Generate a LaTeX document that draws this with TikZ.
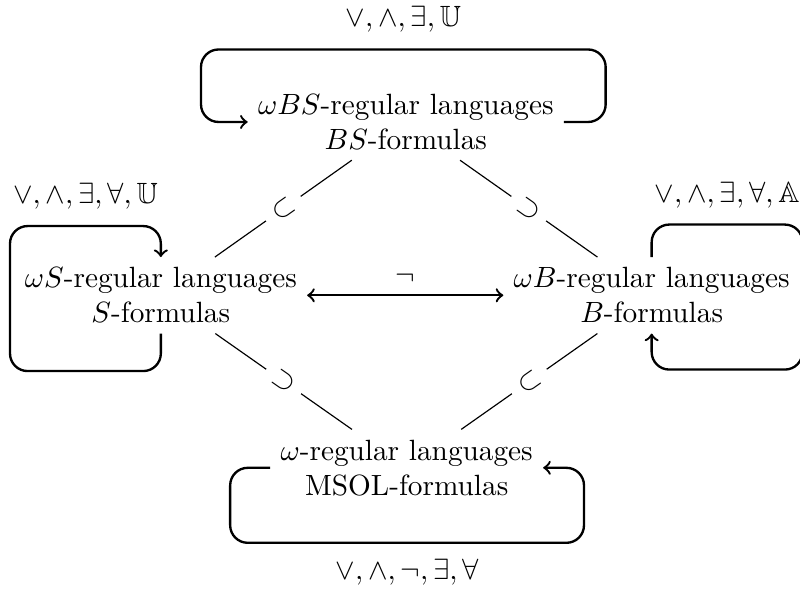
\documentclass[tikz,border=0pt]{standalone}
\usepackage{amssymb}
\begin{document}
\begin{tikzpicture}[
  lang/.style={align=center},
  closure/.style={thick,->,rounded corners=6pt},
  incl/.style={sloped,fill=white}]
\useasboundingbox (0,0) rectangle (9.6,7.104);
\node[lang] (bs) at (4.87,5.64) {$\omega BS$-regular languages\\$BS$-formulas};
\node[lang] (s) at (1.93,3.56) {$\omega S$-regular languages\\$S$-formulas};
\node[lang] (b) at (7.82,3.56) {$\omega B$-regular languages\\$B$-formulas};
\node[lang] (reg) at (4.88,1.49) {$\omega$-regular languages\\MSOL-formulas};

% inclusions
\draw (s) -- node[incl] {$\subset$} (bs);
\draw (bs) -- node[incl] {$\supset$} (b);
\draw (s) -- node[incl] {$\supset$} (reg);
\draw (reg) -- node[incl] {$\subset$} (b);

\draw[thick,<->] (s) -- node[above] {$\neg$} (b);

% closure properties
\draw[closure] (bs.east) -- ++(0.5,0)
  |- node[pos=.75,above=2pt] {$\vee,\wedge,\exists,\mathbb{U}$} ([xshift=-0.56cm,yshift=0.87cm]bs.west)
  -- ([xshift=-0.56cm]bs.west) -- (bs.west);
\draw[closure] (s.south) -- ++(0,-0.45) -- ++(-1.81,0) -- ++(0,1.74)
  -- ++(1.81,0) node[midway,above=2pt] {$\vee,\wedge,\exists,\forall,\mathbb{U}$} -- (s.north);
\draw[closure] (b.north) -- ++(0,0.39)
  -- ++(1.81,0) node[midway,above=2pt] {$\vee,\wedge,\exists,\forall,\mathbb{A}$}
  -- ++(0,-1.74) -- ++(-1.81,0) -- (b.south);
\draw[closure] (reg.west) -- ++(-0.48,0)
  |- node[pos=.75,below=2pt] {$\vee,\wedge,\neg,\exists,\forall$} ([xshift=0.49cm,yshift=-0.9cm]reg.east)
  -- ([xshift=0.49cm]reg.east) -- (reg.east);
\end{tikzpicture}
\end{document}
